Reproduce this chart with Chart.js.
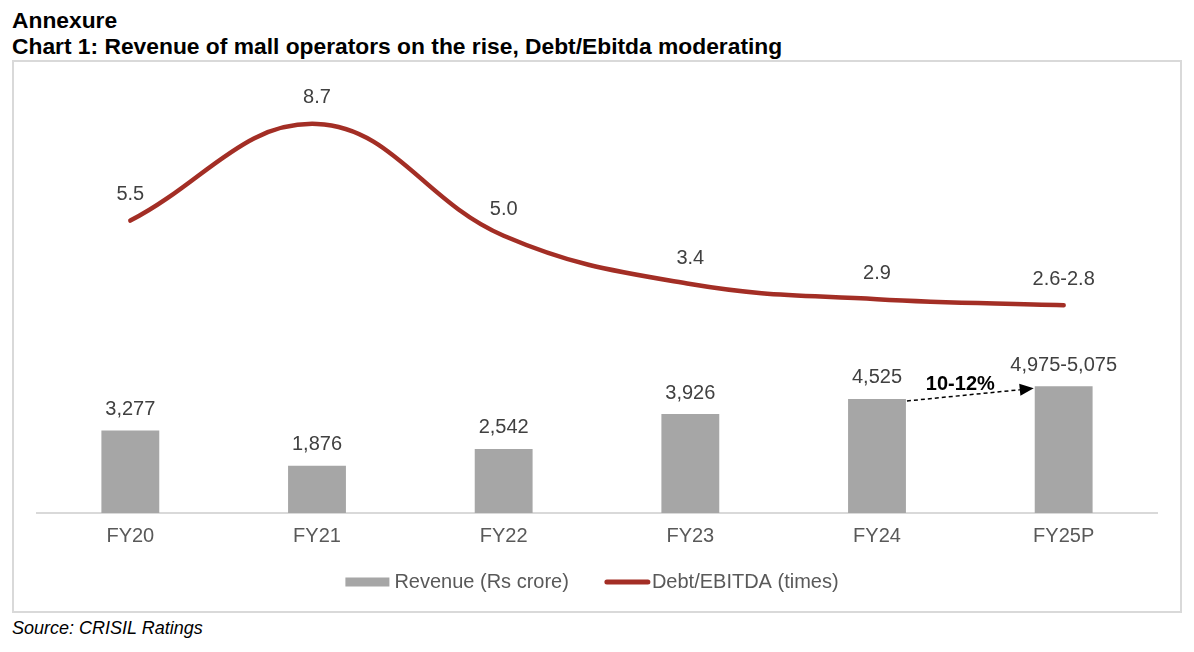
<!DOCTYPE html>
<html>
<head>
<meta charset="utf-8">
<title>Chart 1</title>
<script src="https://cdn.jsdelivr.net/npm/chart.js@4.4.1/dist/chart.umd.min.js"></script>
<style>
    body { margin: 0; background: #fff; font-family: 'Liberation Sans', Arial, sans-serif; }
    #page { position: relative; width: 1194px; height: 652px; overflow: hidden; }
    .title { position: absolute; left: 12px; font-weight: bold; font-size: 22.8px; line-height: 24px; color: #000; white-space: nowrap; }
    #box { position: absolute; left: 12px; top: 60px; width: 1170px; height: 553px; border: 2px solid #d9d9d9; box-sizing: border-box; }
    #box canvas { display: block; }
    .source { position: absolute; left: 12px; top: 617px; font-style: italic; font-size: 18px; line-height: 22px; color: #000; }
</style>
</head>
<body>
<div id="page">
    <div class="title" style="top:8px">Annexure</div>
    <div class="title" style="top:34px">Chart 1: Revenue of mall operators on the rise, Debt/Ebitda moderating</div>
    <div id="box"><canvas id="grafico" width="1166" height="549"></canvas></div>
    <div class="source">Source: CRISIL Ratings</div>
</div>
<script>
// Dados
const categories = ['FY20', 'FY21', 'FY22', 'FY23', 'FY24', 'FY25P'];
const revenue = [3277, 1876, 2542, 3926, 4525, 5025];
const revenueLabels = ['3,277', '1,876', '2,542', '3,926', '4,525', '4,975-5,075'];
const debtEbitda = [5.5, 8.7, 5.0, 3.4, 2.9, 2.7];
const debtLabels = ['5.5', '8.7', '5.0', '3.4', '2.9', '2.6-2.8'];
const growthLabel = '10-12%';

const FONT = '"Liberation Sans", Arial, sans-serif';
const BAR_COLOR = '#a6a6a6';
const LINE_COLOR = '#a32e25';

// rótulos de valores, seta de crescimento e legenda
const extrasPlugin = {
    id: 'extras',
    afterDatasetsDraw(chart) {
        const ctx = chart.ctx;
        const bars = chart.getDatasetMeta(0).data;
        const pts = chart.getDatasetMeta(1).data;
        ctx.save();
        ctx.font = '20px ' + FONT;
        ctx.fillStyle = '#404040';
        ctx.textAlign = 'center';
        ctx.textBaseline = 'middle';
        bars.forEach((b, i) => ctx.fillText(revenueLabels[i], b.x, b.y - 21));
        pts.forEach((p, i) => ctx.fillText(debtLabels[i], p.x, p.y - 26));

        // seta tracejada FY24 -> FY25P
        const a = bars[4], b = bars[5];
        const x1 = a.x + a.width / 2 + 1, y1 = a.y + 2;
        const x2 = b.x - b.width / 2 - 1, y2 = b.y + 2;
        const ang = Math.atan2(y2 - y1, x2 - x1);
        const len = 14, hw = 6;
        const bx = x2 - len * Math.cos(ang), by = y2 - len * Math.sin(ang);
        ctx.strokeStyle = '#000';
        ctx.lineWidth = 1.5;
        ctx.setLineDash([4, 3]);
        ctx.beginPath();
        ctx.moveTo(x1, y1);
        ctx.lineTo(bx, by);
        ctx.stroke();
        ctx.setLineDash([]);
        ctx.fillStyle = '#000';
        ctx.beginPath();
        ctx.moveTo(x2, y2);
        ctx.lineTo(bx + hw * Math.sin(ang), by - hw * Math.cos(ang));
        ctx.lineTo(bx - hw * Math.sin(ang), by + hw * Math.cos(ang));
        ctx.closePath();
        ctx.fill();
        ctx.font = 'bold 20px ' + FONT;
        ctx.fillText(growthLabel, (x1 + x2) / 2 - 10, (y1 + y2) / 2 - 10);

        // legenda
        const y = 520;
        const t1 = chart.data.datasets[0].label, t2 = chart.data.datasets[1].label;
        ctx.font = '20px ' + FONT;
        const w1 = ctx.measureText(t1).width, w2 = ctx.measureText(t2).width;
        const total = 44 + 5 + w1 + 36 + 45 + 2 + w2;
        let x = (chart.chartArea.left + chart.chartArea.right) / 2 - 5 - total / 2;
        ctx.fillStyle = BAR_COLOR;
        ctx.fillRect(x, y - 4.5, 44, 9);
        x += 49;
        ctx.fillStyle = '#595959';
        ctx.textAlign = 'left';
        ctx.fillText(t1, x, y);
        x += w1 + 36;
        ctx.strokeStyle = LINE_COLOR;
        ctx.lineWidth = 5;
        ctx.lineCap = 'round';
        ctx.beginPath();
        ctx.moveTo(x + 2, y);
        ctx.lineTo(x + 43, y);
        ctx.stroke();
        x += 47;
        ctx.fillText(t2, x, y);
        ctx.restore();
    }
};

new Chart(document.getElementById('grafico').getContext('2d'), {
    type: 'bar',
    data: {
        labels: categories,
        datasets: [
            {
                label: 'Revenue (Rs crore)',
                data: revenue,
                backgroundColor: BAR_COLOR,
                barPercentage: 0.31,
                categoryPercentage: 1,
                yAxisID: 'y',
                order: 2
            },
            {
                type: 'line',
                label: 'Debt/EBITDA (times)',
                data: debtEbitda,
                borderColor: LINE_COLOR,
                backgroundColor: LINE_COLOR,
                borderWidth: 4.5,
                borderCapStyle: 'round',
                pointRadius: 0,
                tension: 0.4,
                fill: false,
                yAxisID: 'y2',
                order: 1
            }
        ]
    },
    options: {
        responsive: false,
        animation: false,
        layout: { padding: { top: 10, left: 23, right: 23, bottom: 0 } },
        plugins: {
            legend: { display: false },
            tooltip: { enabled: false }
        },
        scales: {
            x: {
                offset: true,
                grid: { display: false, drawTicks: false },
                border: { display: true, color: '#d9d9d9', width: 2 },
                ticks: { color: '#595959', font: { size: 20, family: FONT }, padding: 11 },
                afterFit: function(scale) { scale.height = 98; }
            },
            y: { display: false, min: 0, max: 17500 },
            y2: { display: false, min: -4.18, max: 10.42 }
        }
    },
    plugins: [extrasPlugin]
});
</script>
</body>
</html>
